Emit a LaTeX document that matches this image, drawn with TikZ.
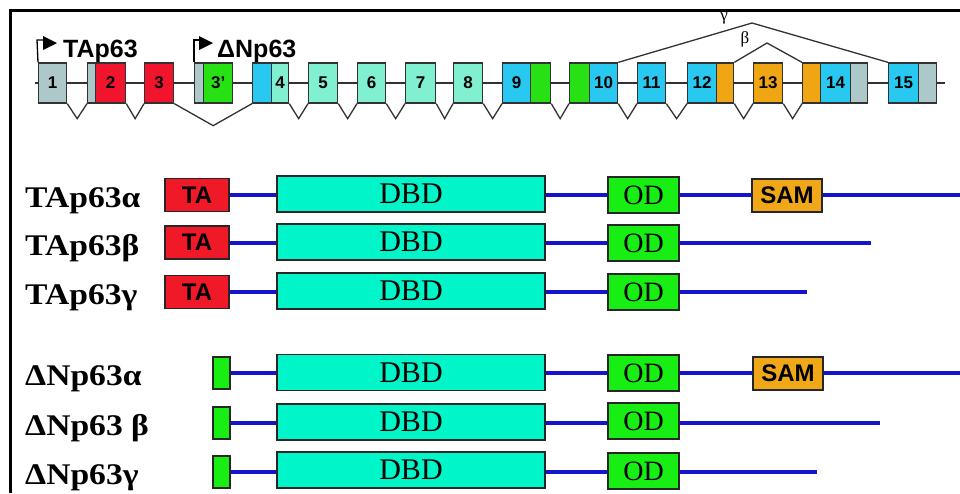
\documentclass[tikz,border=0pt]{standalone}
\usepackage{fontspec}
\setmainfont{Liberation Serif}
\setsansfont{Liberation Sans}
\usetikzlibrary{calc}
\definecolor{exgray}{RGB}{172,200,200}
\definecolor{exred}{RGB}{240,20,45}
\definecolor{exgreen}{RGB}{40,225,20}
\definecolor{exblue}{RGB}{40,200,240}
\definecolor{exteal}{RGB}{128,240,208}
\definecolor{exorange}{RGB}{240,165,20}
\definecolor{dbdcol}{RGB}{0,245,200}
\definecolor{odcol}{RGB}{25,238,20}
\definecolor{samcol}{RGB}{240,168,24}
\definecolor{tacol}{RGB}{240,25,40}
\definecolor{protline}{RGB}{20,20,205}
\definecolor{gline}{RGB}{50,50,50}
\newcommand{\widelab}[1]{\scalebox{1.12}[1]{#1}}
\begin{document}
\begin{tikzpicture}[x=1pt,y=-1pt,
  exon/.style={draw=gline, line width=1.3pt, minimum height=40pt, inner sep=0pt, anchor=west,
    font=\sffamily\bfseries\fontsize{17}{17}\selectfont},
  intron/.style={draw=gline, line width=1.3pt, line join=miter},
  promo/.style={draw=black, line width=1.3pt},
  promotxt/.style={inner sep=0pt, anchor=base west, font=\sffamily\bfseries\fontsize{25}{25}\selectfont},
  splice/.style={inner sep=0pt, font=\fontsize{17}{17}\selectfont},
  lab/.style={inner sep=0pt, anchor=base west, font=\bfseries\fontsize{30}{30}\selectfont},
  dom/.style={draw=black!85, line width=1.2pt, inner sep=0pt},
  tabox/.style={dom, fill=tacol, minimum width=64pt, minimum height=33pt, font=\sffamily\bfseries\fontsize{24}{24}\selectfont},
  dbdbox/.style={dom, fill=dbdcol, minimum width=268pt, minimum height=36pt, font=\fontsize{30}{30}\selectfont},
  odbox/.style={dom, fill=odcol, minimum width=71pt, minimum height=36pt, font=\fontsize{28}{28}\selectfont},
  sambox/.style={dom, fill=samcol, minimum width=70pt, minimum height=33pt, font=\sffamily\bfseries\fontsize{24}{24}\selectfont},
  dnbox/.style={dom, fill=odcol, minimum width=17pt, minimum height=32pt},
  prot/.style={draw=protline, line width=4pt}
]
\useasboundingbox (0,0) rectangle (960,493);
\fill[white] (0,0) rectangle (960,493);
% frame
\coordinate (frR) at (960,10);
\coordinate (frC) at (10,10);
\coordinate (frB) at (10,493);
\draw[line width=3pt] (frR) -- (frC) -- (frB);

% backbone
\coordinate (bbL) at (35,83);
\coordinate (bbR) at (945,83);
\draw[draw=gline, line width=2pt] (bbL) -- (bbR);

% exons
\node[exon, fill=exgray, minimum width=28pt] (e1) at (38,83) {1};
\node[exon, fill=exgray, minimum width=8pt] (g2) at (87,83) {};
\node[exon, fill=exred, minimum width=30pt] (e2) at (95,83) {2};
\node[exon, fill=exred, minimum width=29pt] (e3) at (144,83) {3};
\node[exon, fill=exgray, minimum width=9pt] (g3p) at (194,83) {};
\node[exon, fill=exgreen, minimum width=29pt] (e3p) at (203,83) {3'};
\node[exon, fill=exblue, minimum width=19pt] (b4) at (252,83) {};
\node[exon, fill=exteal, minimum width=17pt] (e4) at (271,83) {4};
\node[exon, fill=exteal, minimum width=29pt] (e5) at (308,83) {5};
\node[exon, fill=exteal, minimum width=28pt] (e6) at (357,83) {6};
\node[exon, fill=exteal, minimum width=30pt] (e7) at (405,83) {7};
\node[exon, fill=exteal, minimum width=29pt] (e8) at (453,83) {8};
\node[exon, fill=exblue, minimum width=28pt] (e9) at (502,83) {9};
\node[exon, fill=exgreen, minimum width=20pt] (g9) at (530,83) {};
\node[exon, fill=exgreen, minimum width=20pt] (g10) at (569,83) {};
\node[exon, fill=exblue, minimum width=28pt] (e10) at (589,83) {10};
\node[exon, fill=exblue, minimum width=28pt] (e11) at (637,83) {11};
\node[exon, fill=exblue, minimum width=29pt] (e12) at (687,83) {12};
\node[exon, fill=exorange, minimum width=17pt] (o12) at (716,83) {};
\node[exon, fill=exorange, minimum width=29pt] (e13) at (753,83) {13};
\node[exon, fill=exorange, minimum width=18pt] (o14) at (802,83) {};
\node[exon, fill=exblue, minimum width=30pt] (e14) at (820,83) {14};
\node[exon, fill=exgray, minimum width=17pt] (g14) at (850,83) {};
\node[exon, fill=exblue, minimum width=30pt] (e15) at (888,83) {15};
\node[exon, fill=exgray, minimum width=18pt] (g15) at (918,83) {};

% introns (V shapes)
\foreach \a/\b in {e1/g2, e2/e3, e4/e5, e5/e6, e6/e7, e7/e8, e8/e9, g9/g10, e10/e11, e11/e12, o12/e13, e13/o14}{
  \draw[intron] (\a.south east) -- ($(\a.south east)!0.5!(\b.south west)+(0,15)$) -- (\b.south west);
}
\draw[intron] (e3.south east) -- ($(e3.south east)!0.5!(b4.south west)+(0,22)$) -- (b4.south west);

% alternative splicing above
\coordinate (gpeak) at (752,23);
\coordinate (bpeak) at (767,43);
\draw[intron] (e10.north east) -- (gpeak) -- (e15.north west);
\draw[intron] (o12.north east) -- (bpeak) -- (o14.north west);
\node[splice] (gam) at (724,18) {γ};
\node[splice] (bet) at (745,39) {β};

% promoters
\coordinate (pa1) at (37,40);
\coordinate (pa2) at (44,40);
\draw[promo] (e1.north west) -- (pa1) -- (pa2);
\fill (43,36) -- (57,43) -- (43,50) -- cycle;
\node[promotxt] (tap) at (63,57) {TAp63};
\coordinate (pb1) at (194,40);
\coordinate (pb2) at (200,40);
\draw[promo] (g3p.north west) -- (pb1) -- (pb2);
\fill (199,36) -- (213,43) -- (199,50) -- cycle;
\node[promotxt] (dnp) at (217,57) {ΔNp63};

% protein isoforms
% row 1
\node[lab] (l1) at (25,207) {\widelab{TAp63α}};
\node[tabox] (ta1) at (197,195) {TA};
\node[dbdbox] (d1) at (411,194) {DBD};
\node[odbox] (o1) at (643.5,195) {OD};
\node[sambox] (s1) at (787,195.5) {SAM};
\coordinate (end1) at (962,195);
\draw[prot] (ta1.east) -- (d1.west |- ta1.east);
\draw[prot] (d1.east |- o1.west) -- (o1.west);
\draw[prot] (o1.east) -- (s1.west |- o1.east);
\draw[prot] (s1.east |- end1) -- (end1);
% row 2
\node[lab] (l2) at (25,255) {\widelab{TAp63β}};
\node[tabox] (ta2) at (197,242.5) {TA};
\node[dbdbox] (d2) at (411,242) {DBD};
\node[odbox] (o2) at (643.5,243) {OD};
\coordinate (end2) at (871,243);
\draw[prot] (ta2.east) -- (d2.west |- ta2.east);
\draw[prot] (d2.east |- o2.west) -- (o2.west);
\draw[prot] (o2.east) -- (end2);
% row 3
\node[lab] (l3) at (25,304) {\widelab{TAp63γ}};
\node[tabox] (ta3) at (197,292) {TA};
\node[dbdbox] (d3) at (411,291) {DBD};
\node[odbox] (o3) at (643.5,292) {OD};
\coordinate (end3) at (807,292);
\draw[prot] (ta3.east) -- (d3.west |- ta3.east);
\draw[prot] (d3.east |- o3.west) -- (o3.west);
\draw[prot] (o3.east) -- (end3);
% row 4
\node[lab] (l4) at (25,385) {\widelab{ΔNp63α}};
\node[dnbox] (n4) at (221.5,373) {};
\node[dbdbox] (d4) at (411,372.5) {DBD};
\node[odbox] (o4) at (643.5,373) {OD};
\node[sambox] (s4) at (788,373.5) {SAM};
\coordinate (end4) at (962,373);
\draw[prot] (n4.east) -- (d4.west |- n4.east);
\draw[prot] (d4.east |- o4.west) -- (o4.west);
\draw[prot] (o4.east) -- (s4.west |- o4.east);
\draw[prot] (s4.east |- end4) -- (end4);
% row 5
\node[lab] (l5) at (25,435) {\widelab{ΔNp63 β}};
\node[dnbox] (n5) at (221.5,423) {};
\node[dbdbox] (d5) at (411,422) {DBD};
\node[odbox] (o5) at (643.5,421) {OD};
\coordinate (end5) at (880,423);
\draw[prot] (n5.east) -- (d5.west |- n5.east);
\draw[prot] (d5.east |- n5.east) -- (o5.west |- n5.east);
\draw[prot] (o5.east |- end5) -- (end5);
% row 6
\node[lab] (l6) at (25,484) {\widelab{ΔNp63γ}};
\node[dnbox] (n6) at (221.5,472) {};
\node[dbdbox] (d6) at (411,470) {DBD};
\node[odbox] (o6) at (643.5,471) {OD};
\coordinate (end6) at (817,472);
\draw[prot] (n6.east) -- (d6.west |- n6.east);
\draw[prot] (d6.east |- n6.east) -- (o6.west |- n6.east);
\draw[prot] (o6.east |- end6) -- (end6);
\end{tikzpicture}
\end{document}
